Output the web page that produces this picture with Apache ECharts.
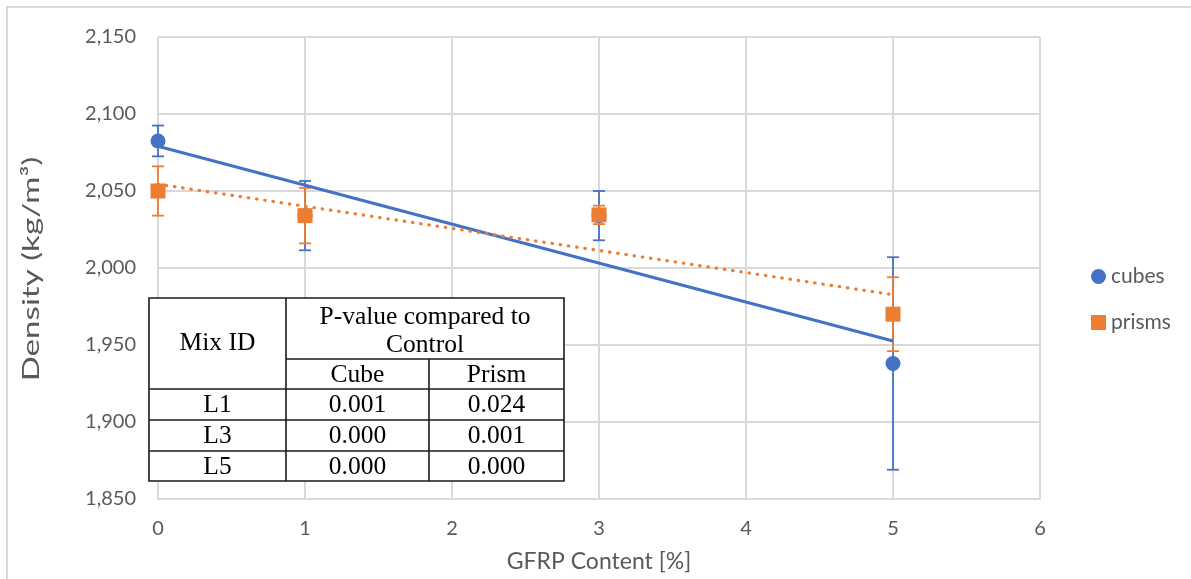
<!DOCTYPE html>
<html>
<head>
<meta charset="utf-8">
<title>Density vs GFRP content</title>
<script src="https://cdn.jsdelivr.net/npm/echarts@6/dist/echarts.min.js"></script>
<style>
  html, body { margin: 0; padding: 0; background: #fff; }
  #chart { width: 1191px; height: 579px; }
</style>
</head>
<body>
<div id="chart"></div>
<script>
// GFRP content [%]
var gfrp = [0, 1, 3, 5];
// mean density (kg/m3) and +/- error bar
var cubes = [2082.5, 2034, 2034, 1938];
var cubesErr = [10, 22.5, 16, 69];
var prisms = [2050, 2034, 2034.5, 1970];
var prismsErr = [16, 18, 6, 24];

// axes
var yMin = 1850, yMax = 2150, yStep = 50;
var xMin = 0, xMax = 6, xStep = 1;
var yTitle = 'Density (kg/m³)';
var xTitle = 'GFRP Content [%]';

// p-value table
var tableHead = ['Mix ID', 'P-value compared to', 'Control', 'Cube', 'Prism'];
var tableMix = ['L1', 'L3', 'L5'];
var tableCube = ['0.001', '0.000', '0.000'];
var tablePrism = ['0.024', '0.001', '0.000'];

var BLUE = '#4472C4', ORANGE = '#ED7D31', GREY = '#595959', GRID = '#D9D9D9';
var SANS = 'Lato';

// least squares line over the points, drawn from first to last x
function linFit(xs, ys) {
    var n = xs.length, mx = 0, my = 0, sxx = 0, sxy = 0;
    for (var i = 0; i < n; i++) { mx += xs[i] / n; my += ys[i] / n; }
    for (var j = 0; j < n; j++) {
        sxx += (xs[j] - mx) * (xs[j] - mx);
        sxy += (xs[j] - mx) * (ys[j] - my);
    }
    var m = sxy / sxx, b = my - m * mx;
    return [[xs[0], b + m * xs[0]], [xs[n - 1], b + m * xs[n - 1]]];
}

function pairs(ys) {
    return gfrp.map(function (x, i) { return [x, ys[i]]; });
}
function errData(ys, es) {
    return gfrp.map(function (x, i) { return [x, ys[i] - es[i], ys[i] + es[i]]; });
}

function errRender(color) {
    return function (params, api) {
        var x = api.value(0);
        var lo = api.coord([x, api.value(1)]);
        var hi = api.coord([x, api.value(2)]);
        var cap = 6;
        var st = { stroke: color, lineWidth: 1.8 };
        return {
            type: 'group',
            children: [
                { type: 'line', shape: { x1: hi[0], y1: hi[1], x2: lo[0], y2: lo[1] }, style: st },
                { type: 'line', shape: { x1: hi[0] - cap, y1: hi[1], x2: hi[0] + cap, y2: hi[1] }, style: st },
                { type: 'line', shape: { x1: lo[0] - cap, y1: lo[1], x2: lo[0] + cap, y2: lo[1] }, style: st }
            ]
        };
    };
}

// table drawn as a graphic overlay, above the grid lines
function buildTable() {
    var L = 149, T = 298, R = 564, B = 481;
    var c1 = 286, c2 = 429, h1 = 359, rows = [389, 420, 451];
    var line = { stroke: '#1a1a1a', lineWidth: 1.6 };
    var font = { fill: '#000', fontSize: 25.5, fontFamily: 'Liberation Serif', align: 'center', verticalAlign: 'middle' };
    function txt(s, x, y) {
        return { type: 'text', z: 102, style: Object.assign({ text: s, x: x, y: y }, font) };
    }
    function ln(x1, y1, x2, y2) {
        return { type: 'line', z: 101, shape: { x1: x1, y1: y1, x2: x2, y2: y2 }, style: line };
    }
    var ch = [
        { type: 'rect', z: 100, shape: { x: L, y: T, width: R - L, height: B - T }, style: { fill: '#fff', stroke: '#1a1a1a', lineWidth: 1.6 } },
        ln(c1, T, c1, B), ln(c2, h1, c2, B), ln(c1, h1, R, h1)
    ];
    rows.forEach(function (y) { ch.push(ln(L, y, R, y)); });
    ch.push(txt(tableHead[0], (L + c1) / 2, (T + rows[0]) / 2));
    ch.push(txt(tableHead[1], (c1 + R) / 2, 317));
    ch.push(txt(tableHead[2], (c1 + R) / 2, 345));
    ch.push(txt(tableHead[3], (c1 + c2) / 2, (h1 + rows[0]) / 2 + 1));
    ch.push(txt(tableHead[4], (c2 + R) / 2, (h1 + rows[0]) / 2 + 1));
    var edges = rows.concat([B]);
    for (var i = 0; i < tableMix.length; i++) {
        var cy = (edges[i] + edges[i + 1]) / 2 + 1;
        ch.push(txt(tableMix[i], (L + c1) / 2, cy));
        ch.push(txt(tableCube[i], (c1 + c2) / 2, cy));
        ch.push(txt(tablePrism[i], (c2 + R) / 2, cy));
    }
    return ch;
}

var chart = echarts.init(document.getElementById('chart'));
var option = {
    animation: false,
    backgroundColor: '#fff',
    textStyle: { fontFamily: SANS, color: GREY },
    grid: { left: 158, right: 151, top: 37, bottom: 80, containLabel: false },
    legend: {
        orient: 'vertical', left: 1086, top: 261, itemGap: 25,
        itemWidth: 15, itemHeight: 15,
        textStyle: { fontFamily: SANS, fontSize: 21, color: GREY },
        data: [{ name: 'cubes', icon: 'circle' }, { name: 'prisms', icon: 'rect' }]
    },
    xAxis: {
        type: 'value', min: xMin, max: xMax, interval: xStep,
        name: xTitle, nameLocation: 'middle', nameGap: 51,
        nameTextStyle: { fontFamily: SANS, fontSize: 23, color: GREY },
        axisLine: { show: true, lineStyle: { color: GRID, width: 2 } },
        axisTick: { show: false },
        axisLabel: { margin: 20, fontFamily: SANS, fontSize: 20, color: GREY },
        splitLine: { show: true, lineStyle: { color: GRID, width: 2 } }
    },
    yAxis: {
        type: 'value', min: yMin, max: yMax, interval: yStep,
        axisLine: { show: false },
        axisTick: { show: false },
        axisLabel: {
            margin: 22, fontFamily: SANS, fontSize: 20, color: GREY,
            formatter: function (v) { return v.toLocaleString('en-US'); }
        },
        splitLine: { show: true, lineStyle: { color: GRID, width: 2 } }
    },
    graphic: [
        { type: 'rect', z: -10, silent: true, shape: { x: 7, y: 7, width: 1200, height: 600 },
          style: { fill: 'none', stroke: GRID, lineWidth: 2 } },
        // y title is drawn stretched along its length like the source
        { type: 'text', x: 31, y: 269, rotation: Math.PI / 2, scaleX: 1.38,
          style: { text: yTitle, fill: GREY, fontSize: 24, fontFamily: SANS, align: 'center', verticalAlign: 'middle' } }
    ].concat(buildTable()),
    series: [
        {
            name: 'cubes trend', type: 'line', data: linFit(gfrp, cubes),
            symbol: 'none', silent: true,
            lineStyle: { color: BLUE, width: 3.2 }
        },
        {
            name: 'prisms trend', type: 'line', data: linFit(gfrp, prisms),
            symbol: 'none', silent: true,
            lineStyle: { color: ORANGE, width: 3.2, type: [0.5, 7.8], cap: 'round' }
        },
        {
            name: 'cubes err', type: 'custom', data: errData(cubes, cubesErr),
            renderItem: errRender(BLUE), encode: { x: 0, y: [1, 2] }
        },
        {
            name: 'cubes', type: 'scatter', data: pairs(cubes),
            symbol: 'circle', symbolSize: 15, itemStyle: { color: BLUE, opacity: 1 }
        },
        {
            name: 'prisms err', type: 'custom', data: errData(prisms, prismsErr),
            renderItem: errRender(ORANGE), encode: { x: 0, y: [1, 2] }
        },
        {
            name: 'prisms', type: 'scatter', data: pairs(prisms),
            symbol: 'rect', symbolSize: 15, itemStyle: { color: ORANGE, opacity: 1 }
        }
    ]
};
chart.setOption(option);
</script>
</body>
</html>
